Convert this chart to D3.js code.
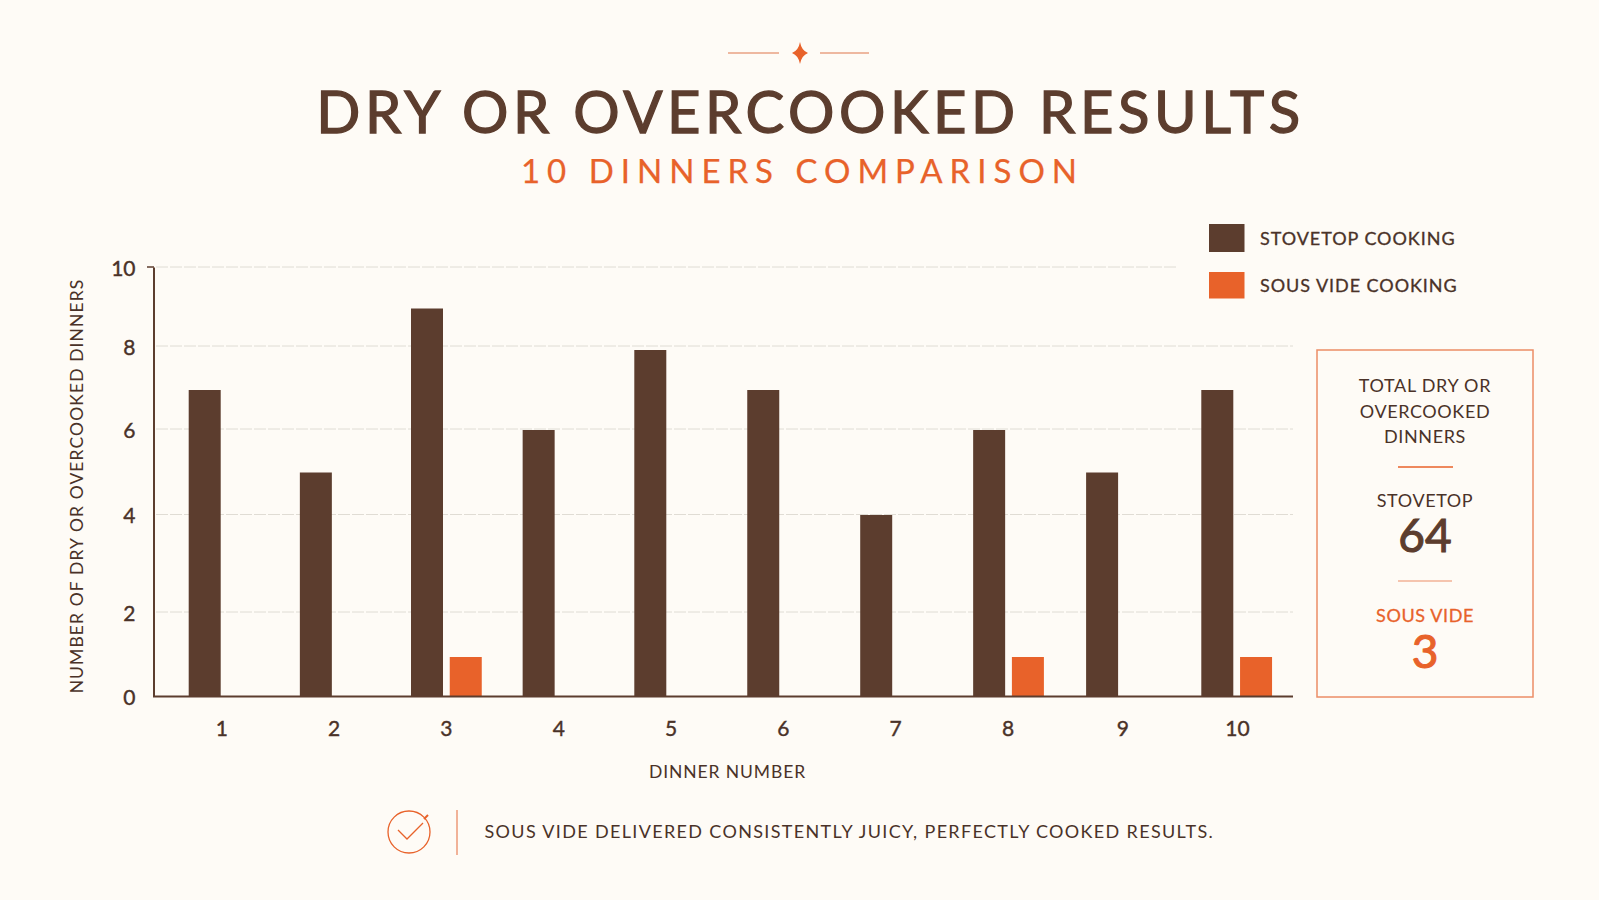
<!DOCTYPE html>
<html>
<head>
<meta charset="utf-8">
<script src="https://cdn.jsdelivr.net/npm/d3@7/dist/d3.min.js"></script>
<style>
  html, body { margin: 0; padding: 0; background: #fefbf6; }
  svg { display: block; }
  text { font-family: "Lato", "Open Sans", sans-serif; }
</style>
</head>
<body>
<svg id="chart" width="1599" height="900"></svg>
<script>
// Dry or overcooked dinners, per dinner and per cooking method
const dinners = [1, 2, 3, 4, 5, 6, 7, 8, 9, 10];
const stovetop = [7, 5, 9, 6, 8, 7, 4, 6, 5, 7];
const sousVide = [0, 0, 1, 0, 0, 0, 0, 1, 0, 1];
const yTicks = [0, 2, 4, 6, 8, 10];
const seriesNames = ["STOVETOP COOKING", "SOUS VIDE COOKING"];

const BROWN = "#5c3d2e", INK = "#4a3228", ORANGE = "#e8622a", BG = "#fefbf6";

const svg = d3.select("#chart");
svg.append("rect").attr("width", 1599).attr("height", 900).attr("fill", BG);

// Lato has no medium cut here, so a thin outline in the fill colour thickens it
function label(x, y, str, size, opts = {}) {
  const fill = opts.fill || INK;
  return svg.append("text")
    .attr("x", x).attr("y", y)
    .attr("text-anchor", opts.anchor || "middle")
    .attr("font-size", size)
    .attr("letter-spacing", opts.spacing || 0)
    .attr("fill", fill)
    .attr("stroke", opts.thicken ? fill : "none")
    .attr("stroke-width", opts.thicken || 0)
    .text(str);
}

// Header ornament
const ornament = svg.append("g").attr("stroke", "#e8a283").attr("stroke-width", 1.5);
ornament.append("line").attr("x1", 728).attr("x2", 779).attr("y1", 53).attr("y2", 53);
ornament.append("line").attr("x1", 820).attr("x2", 869).attr("y1", 53).attr("y2", 53);
svg.append("path")
  .attr("transform", "translate(800,53)")
  .attr("d", "M0,-11 Q1.5,-2.5 8,0 Q1.5,2.5 0,11 Q-1.5,2.5 -8,0 Q-1.5,-2.5 0,-11Z")
  .attr("fill", ORANGE);

label(810.5, 133, "DRY OR OVERCOOKED RESULTS", 58, { thicken: 1.3, spacing: 4.55, fill: BROWN });
label(802.5, 183, "10 DINNERS COMPARISON", 33, { fill: ORANGE, spacing: 7, thicken: 0.25 });

// Scales: ticks and bars each follow their own slightly uneven printed spacing
const xTick = d3.scaleLinear().domain([1, 8, 10]).range([221.3, 1007.5, 1237]);
const xBar = d3.scaleLinear().domain([1, 3, 5, 9, 10]).range([188.7, 411, 634.3, 1086.1, 1201.3]);
const yTick = d3.scaleLinear().domain(yTicks).range([696.5, 612, 514.5, 429, 346, 267]);
const yBar = d3.scaleLinear()
  .domain([0, 1, 2, 4, 6, 8, 10])
  .range([696.5, 657, 612, 515, 430, 350, 267]);
const barW = 32, barStep = 38.75;

// Dashed gridlines; the top one stops short of the legend
svg.append("g").selectAll("line")
  .data(yTicks.filter(t => t > 0))
  .join("line")
  .attr("x1", 156).attr("x2", d => d === 10 ? 1176 : 1293)
  .attr("y1", d => yTick(d)).attr("y2", d => yTick(d))
  .attr("stroke", "#dcd8d0").attr("stroke-width", 0.9)
  .attr("stroke-dasharray", "12 2");

// Bars
svg.append("g").selectAll("rect")
  .data(dinners.map((d, i) => ({ d, v: stovetop[i] })))
  .join("rect")
  .attr("x", o => xBar(o.d))
  .attr("width", barW)
  .attr("y", o => yBar(o.v))
  .attr("height", o => yBar(0) - yBar(o.v))
  .attr("fill", BROWN);

svg.append("g").selectAll("rect")
  .data(dinners.map((d, i) => ({ d, v: sousVide[i] })).filter(o => o.v > 0))
  .join("rect")
  .attr("x", o => xBar(o.d) + barStep)
  .attr("width", barW)
  .attr("y", o => yBar(o.v))
  .attr("height", o => yBar(0) - yBar(o.v))
  .attr("fill", ORANGE);

// Axes
const yAxis = svg.append("g")
  .attr("transform", "translate(153.5,1.5)")
  .call(d3.axisLeft(yTick).tickValues(yTicks).tickSize(0).tickPadding(18));
yAxis.select(".domain").attr("stroke", BROWN).attr("stroke-width", 2).attr("transform", "translate(0,-1.5)");
yAxis.selectAll("text")
  .attr("font-size", 21).attr("font-family", "Lato").attr("fill", INK)
  .attr("stroke", INK).attr("stroke-width", 0.4);

const xAxis = svg.append("g")
  .attr("transform", "translate(0,696.5)")
  .call(d3.axisBottom(xTick).tickValues(dinners).tickFormat(d3.format("d")).tickSize(0).tickPadding(25));
xAxis.select(".domain").attr("d", "M153,0H1293").attr("stroke", BROWN).attr("stroke-width", 2);
xAxis.selectAll("text")
  .attr("font-size", 21).attr("font-family", "Lato").attr("fill", INK)
  .attr("stroke", INK).attr("stroke-width", 0.4);

svg.append("line").attr("x1", 147).attr("x2", 154)
  .attr("y1", yTick(10)).attr("y2", yTick(10)).attr("stroke", BROWN).attr("stroke-width", 1.5);

// Axis titles
svg.append("text")
  .attr("transform", "translate(83,486) rotate(-90)")
  .attr("text-anchor", "middle").attr("font-size", 17.5).attr("fill", INK)
  .attr("letter-spacing", 1.1)
  .text("NUMBER OF DRY OR OVERCOOKED DINNERS");
label(727.5, 778, "DINNER NUMBER", 17.5, { spacing: 0.9 });

// Legend
const legend = svg.append("g").selectAll("g")
  .data(seriesNames)
  .join("g");
legend.append("rect")
  .attr("x", 1209).attr("y", (d, i) => i ? 272 : 224)
  .attr("width", 35.5).attr("height", (d, i) => i ? 26.5 : 28)
  .attr("fill", (d, i) => i ? ORANGE : BROWN);
legend.append("text")
  .attr("x", 1260).attr("y", (d, i) => i ? 292 : 245)
  .attr("font-size", 18).attr("letter-spacing", 0.95)
  .attr("fill", INK).attr("stroke", INK).attr("stroke-width", 0.3)
  .text(d => d);

// Totals panel, summed from the two series
svg.append("rect")
  .attr("x", 1317).attr("y", 350).attr("width", 216).attr("height", 347)
  .attr("fill", "none").attr("stroke", "#ec8d66").attr("stroke-width", 1.5);

label(1425, 392, "TOTAL DRY OR", 18, { spacing: 0.7 });
label(1425, 418, "OVERCOOKED", 18, { spacing: 0.6 });
label(1425, 443, "DINNERS", 18, { spacing: 0.6 });
svg.append("line").attr("x1", 1398).attr("x2", 1453).attr("y1", 467).attr("y2", 467)
  .attr("stroke", ORANGE).attr("stroke-width", 1.5);
label(1425, 507, "STOVETOP", 18, { spacing: 0.6 });
label(1425, 552, d3.sum(stovetop), 46, { thicken: 1.1, fill: BROWN });
svg.append("line").attr("x1", 1398).attr("x2", 1452).attr("y1", 581).attr("y2", 581)
  .attr("stroke", "#ec8d66").attr("stroke-width", 1.2);
label(1425, 622, "SOUS VIDE", 18, { fill: ORANGE, spacing: 0.6, thicken: 0.3 });
label(1425, 668, d3.sum(sousVide), 46, { thicken: 1.1, fill: ORANGE });

// Footer note
const badge = svg.append("g").attr("fill", "none").attr("stroke", ORANGE).attr("stroke-width", 1.3);
badge.append("circle").attr("cx", 409).attr("cy", 832).attr("r", 21);
badge.append("path").attr("d", "M398,830 L407,839 L423,823");
badge.append("path").attr("d", "M424,819 L428,815").attr("stroke-width", 2);
svg.append("line").attr("x1", 457).attr("x2", 457).attr("y1", 810).attr("y2", 855)
  .attr("stroke", "#e8825a").attr("stroke-width", 1.2);
label(484.5, 838, "SOUS VIDE DELIVERED CONSISTENTLY JUICY, PERFECTLY COOKED RESULTS.", 18, { anchor: "start", spacing: 1.34 });
</script>
</body>
</html>
